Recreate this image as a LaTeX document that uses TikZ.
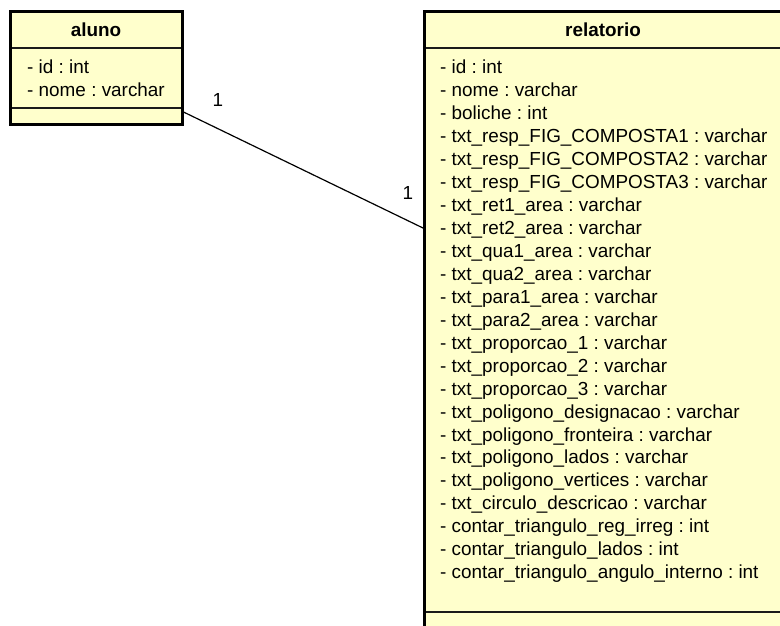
\documentclass[tikz,border=0pt]{standalone}
\usepackage{fontspec}
\setmainfont{Liberation Sans}
\definecolor{umlfill}{HTML}{FFFFCC}
\definecolor{umlline}{HTML}{1A1A1A}
\begin{document}
\frenchspacing
\begin{tikzpicture}[x=1pt,y=-1pt,
  classbox/.style={draw=black,line width=3pt,fill=umlfill},
  sepline/.style={draw=umlline,line width=1.3pt},
  attr/.style={anchor=base west,inner sep=0pt,font=\fontsize{18.9}{22}\selectfont\frenchspacing},
  ctitle/.style={anchor=base,inner sep=0pt,font=\fontsize{18.9}{22}\selectfont\bfseries},
  mult/.style={inner sep=0pt,font=\fontsize{18.9}{22}\selectfont},
  assoc/.style={draw=black,line width=1.2pt}]
\useasboundingbox (0,0) rectangle (780,626);
\clip (0,0) rectangle (780,626);
% aluno
\draw[classbox] (10.5,11.5) rectangle (182,125);
\draw[sepline] (12,48) -- (180.5,48);
\draw[sepline] (12,108) -- (180.5,108);
\node[ctitle] (alunoT) at (96,36.7) {aluno};
\node[attr] (a1) at (27,74) {- id : int};
\node[attr] (a2) at (27,96.8) {- nome : varchar};
% relatorio
\draw[classbox] (424.5,11.5) rectangle (783,650);
\draw[sepline] (426,48) -- (780,48);
\draw[sepline] (426,612) -- (780,612);
\node[ctitle] (relT) at (603,36.7) {relatorio};
\foreach \t [count=\i from 0] in {
 - id : int,
 - nome : varchar,
 - boliche : int,
 - txt\_resp\_FIG\_COMPOSTA1 : varchar,
 - txt\_resp\_FIG\_COMPOSTA2 : varchar,
 - txt\_resp\_FIG\_COMPOSTA3 : varchar,
 - txt\_ret1\_area : varchar,
 - txt\_ret2\_area : varchar,
 - txt\_qua1\_area : varchar,
 - txt\_qua2\_area : varchar,
 - txt\_para1\_area : varchar,
 - txt\_para2\_area : varchar,
 - txt\_proporcao\_1 : varchar,
 - txt\_proporcao\_2 : varchar,
 - txt\_proporcao\_3 : varchar,
 - txt\_poligono\_designacao : varchar,
 - txt\_poligono\_fronteira : varchar,
 - txt\_poligono\_lados : varchar,
 - txt\_poligono\_vertices : varchar,
 - txt\_circulo\_descricao : varchar,
 - contar\_triangulo\_reg\_irreg : int,
 - contar\_triangulo\_lados : int,
 - contar\_triangulo\_angulo\_interno : int}
 {\node[attr] (r\i) at (440,74+22.94*\i) {\t};}
% association
\coordinate (ae) at (183.5,112);
\coordinate (rw) at (423,228);
\draw[assoc] (ae) -- (rw);
\node[mult] (m1) at (218,100) {1};
\node[mult] (m2) at (408,193) {1};
\end{tikzpicture}
\end{document}
